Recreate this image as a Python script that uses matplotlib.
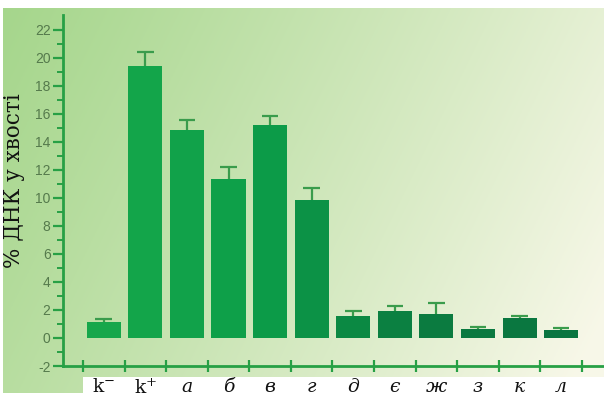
import numpy as np
import matplotlib
matplotlib.use("Agg")
import matplotlib.pyplot as plt
from matplotlib.colors import LinearSegmentedColormap

plt.rcParams["axes.unicode_minus"] = False
plt.rcParams["mathtext.fontset"] = "dejavuserif"

# data
labels = ["k$^{-}$", "k$^{+}$", "а", "б", "в", "г", "д", "є", "ж", "з", "к", "л"]
values = [1.17, 19.4, 14.85, 11.35, 15.2, 9.85, 1.58, 1.94, 1.68, 0.63, 1.4, 0.58]
errors = [0.2, 1.0, 0.7, 0.85, 0.65, 0.85, 0.32, 0.36, 0.85, 0.13, 0.15, 0.15]
y_label = "% ДНК у хвості"

W, H = 604, 400
fig = plt.figure(figsize=(W / 100, H / 100), dpi=100)
fig.patch.set_facecolor("white")

# gradient backdrop
bg = fig.add_axes([3 / W, 7 / H, 601 / W, 385 / H], zorder=0)
u = np.linspace(0, 1, 300)
v = np.linspace(0, 1, 200)
U, V = np.meshgrid(u, v)
t = np.clip(0.8 * U + 0.25 * V, 0, 1) ** 1.1
c0 = np.array([0.65, 0.84, 0.55])
c1 = np.array([0.97, 0.97, 0.91])
img = c0[None, None, :] * (1 - t[..., None]) + c1[None, None, :] * t[..., None]
bg.imshow(img, aspect="auto", extent=[0, 1, 0, 1], origin="upper")
bg.axis("off")

# white strip under the category labels
cover = fig.add_axes([83 / W, 0, (W - 83) / W, 23 / H], zorder=1)
cover.set_facecolor("white")
cover.set_xticks([])
cover.set_yticks([])
for s in cover.spines.values():
    s.set_visible(False)

ax = fig.add_axes([63 / W, 34 / H, (W - 63) / W, (366 - 15) / H], zorder=2)
ax.patch.set_alpha(0)

x = np.arange(len(labels))
vals = np.array(values)
errs = np.array(errors)
cmap = LinearSegmentedColormap.from_list("g", ["#16a74b", "#0c9e49", "#0b7d40", "#097540"])
cols = [cmap(i / (len(labels) - 1)) for i in x]
ax.bar(x, vals, width=0.82, color=cols, zorder=3)
# one-sided error bars: stem from bar top, cap at top
err_c = "#3a9c4c"
ax.vlines(x, vals, vals + errs, color=err_c, lw=1.6, zorder=2)
ax.hlines(vals + errs, x - 0.2, x + 0.2, color=err_c, lw=1.6, zorder=2)

ax.set_xlim(-0.98, 12.03)
ax.set_ylim(-2, 23.07)

spine_c = "#27a045"
for s in ["top", "right"]:
    ax.spines[s].set_visible(False)
ax.spines["left"].set_color(spine_c)
ax.spines["bottom"].set_color(spine_c)
ax.spines["left"].set_linewidth(2)
ax.spines["bottom"].set_linewidth(2)

ax.set_yticks(np.arange(-2, 23, 2))
ax.set_yticks(np.arange(-1, 23, 1), minor=True)
ax.tick_params(axis="y", which="major", direction="out", length=7, width=1.6,
               color=spine_c, labelcolor="#557a4c", labelsize=10, pad=2)
ax.tick_params(axis="y", which="minor", direction="out", length=4, width=1.4,
               color=spine_c)
for lab in ax.get_yticklabels():
    lab.set_family("Liberation Sans")

ax.set_xticks(x, labels)
ax.set_xticks(np.arange(-0.5, 12, 1), minor=True)
ax.tick_params(axis="x", which="major", length=0, pad=9, labelsize=13.5,
               labelcolor="#111111")
ax.tick_params(axis="x", which="minor", direction="inout", length=9, width=1.6,
               color=spine_c)
for i, lab in enumerate(ax.get_xticklabels()):
    lab.set_family("DejaVu Serif")
    if i > 1:
        lab.set_style("italic")

fig.text(14 / W, (H - 181) / H, y_label, rotation=90, ha="center", va="center",
         fontsize=15.5, family="DejaVu Serif", color="#111111")

fig.savefig("out.png", dpi=100)
